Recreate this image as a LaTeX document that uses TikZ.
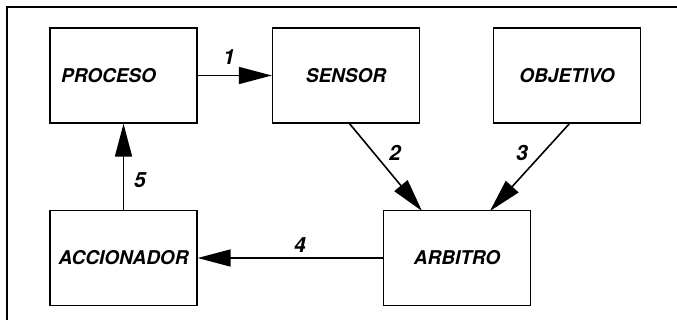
\documentclass[tikz,border=0pt]{standalone}
\usepackage{fontspec}
\setmainfont{TeX Gyre Heros}
\usetikzlibrary{arrows.meta}
\begin{document}
\begin{tikzpicture}[x=1pt,y=-1pt,
  blk/.style={draw,line width=1.3pt,minimum width=147pt,minimum height=95pt,inner sep=0pt,
    font=\fontsize{19}{22}\selectfont\bfseries\itshape},
  conn/.style={line width=1.6pt,-{Triangle[length=33pt,width=17pt]}},
  lbl/.style={font=\fontsize{21}{24}\selectfont\bfseries\itshape,inner sep=0pt}]
\useasboundingbox (0,0) rectangle (677,320);
\draw[line width=1.3pt] (677,7) -- (7,7) -- (7,320);
\node[blk] (proceso) at (123.5,75.5) {\hspace*{-30pt}PROCESO};
\node[blk] (sensor) at (346,75.5) {SENSOR};
\node[blk] (objetivo) at (567,75.5) {OBJETIVO};
\node[blk] (accionador) at (123.5,258) {ACCIONADOR};
\node[blk] (arbitro) at (457,258) {ARBITRO};
\coordinate (s2) at (349,123);
\coordinate (a2) at (422,211);
\coordinate (o3) at (570,123);
\coordinate (a3) at (490,211);
\draw[conn] (proceso.east) -- (sensor.west);
\draw[conn] (s2) -- (a2);
\draw[conn] (o3) -- (a3);
\draw[conn] (arbitro.west) -- (accionador.east);
\draw[conn] (accionador.north) -- (proceso.south);
\node[lbl] (l1) at (229,57) {1};
\node[lbl] (l2) at (395,153) {2};
\node[lbl] (l3) at (522,153) {3};
\node[lbl] (l4) at (300,245) {4};
\node[lbl] (l5) at (140,180) {5};
\end{tikzpicture}
\end{document}
